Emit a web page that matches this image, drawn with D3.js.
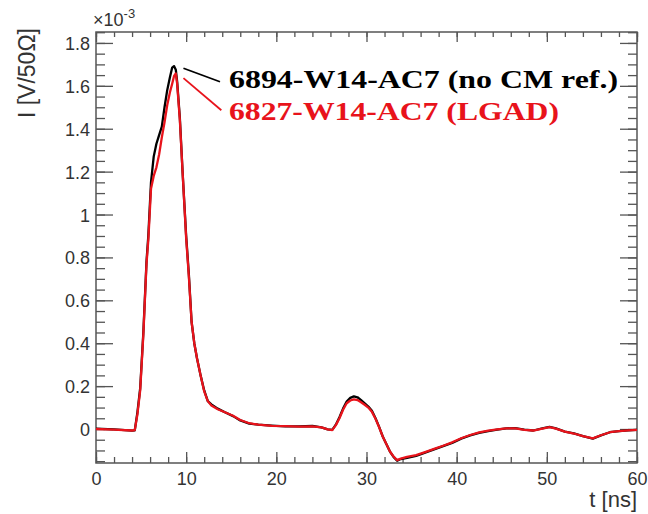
<html lang="en">
<head>
<meta charset="utf-8">
<title>Current pulse</title>
<script src="https://cdn.jsdelivr.net/npm/d3@7"></script>
<style>
  body { margin: 0; background: #fff; }
  .axis text { font-family: "Liberation Sans", Arial, sans-serif; font-size: 18px; fill: #333; }
  .axis path { display: none; }
  .axis line { stroke: #555; stroke-width: 1.3; }
</style>
</head>
<body>
<script>
// time in ns
var timeNs = [0, 2, 4, 4.3, 4.6, 4.9, 5.25, 5.6, 5.8, 6.1, 6.4, 6.7, 7.0, 7.3, 7.6, 7.9, 8.2, 8.45, 8.65, 8.85,
  9.0, 9.3, 9.6, 10.0, 10.3, 10.6, 10.9, 11.2, 11.6, 12.0, 12.4, 12.8, 13.5, 14.3, 15.2, 16.0, 17.0, 18.0, 19.5,
  21, 22.5, 24, 25, 25.7, 26.2, 26.6, 27.0, 27.4, 27.8, 28.2, 28.6, 29.0, 29.4, 29.8, 30.2, 30.6, 31.0, 31.4,
  31.8, 32.2, 32.6, 33.0, 33.4, 33.8, 34.5, 35.5, 36.5, 37.5, 38.5, 39.5, 40.5, 41.5, 42.5, 43.5, 44.5, 45.5,
  46.5, 47.5, 48.5, 49.5, 50.3, 51, 52, 53, 54, 55.1, 56, 57, 58, 59, 60];

// current in 1e-3 V/50Ohm
var blackI = [0.002, -0.002, -0.008, -0.006, 0.08, 0.19, 0.45, 0.78, 0.9, 1.15, 1.27, 1.33, 1.37, 1.41, 1.5, 1.58,
  1.64, 1.685, 1.692, 1.675, 1.62, 1.45, 1.2, 0.9, 0.72, 0.5, 0.4, 0.33, 0.25, 0.18, 0.13, 0.115, 0.095, 0.078,
  0.06, 0.04, 0.025, 0.02, 0.016, 0.012, 0.012, 0.014, 0.008, -0.002, -0.004, 0.02, 0.055, 0.095, 0.128, 0.145,
  0.152, 0.148, 0.135, 0.12, 0.105, 0.085, 0.05, 0.01, -0.035, -0.07, -0.105, -0.13, -0.148, -0.14, -0.135,
  -0.125, -0.11, -0.095, -0.08, -0.065, -0.045, -0.03, -0.018, -0.01, -0.003, 0.003, 0.004, -0.003, -0.007,
  0.003, 0.01, 0.003, -0.012, -0.02, -0.033, -0.045, -0.03, -0.015, -0.01, -0.006, -0.004];

var redI = [0.0, -0.003, -0.007, -0.005, 0.07, 0.18, 0.44, 0.77, 0.88, 1.12, 1.18, 1.22, 1.28, 1.36, 1.43, 1.51,
  1.57, 1.61, 1.645, 1.658, 1.61, 1.44, 1.2, 0.89, 0.71, 0.5, 0.4, 0.33, 0.25, 0.175, 0.13, 0.11, 0.092, 0.078,
  0.062, 0.042, 0.027, 0.02, 0.015, 0.013, 0.011, 0.012, 0.008, -0.002, -0.005, 0.018, 0.05, 0.09, 0.12, 0.133,
  0.138, 0.135, 0.125, 0.113, 0.1, 0.08, 0.048, 0.008, -0.035, -0.07, -0.105, -0.128, -0.145, -0.138, -0.13,
  -0.122, -0.108, -0.093, -0.078, -0.062, -0.043, -0.028, -0.016, -0.008, -0.002, 0.003, 0.003, -0.004, -0.007,
  0.002, 0.009, 0.002, -0.012, -0.021, -0.033, -0.044, -0.029, -0.015, -0.01, -0.006, -0.004];

var xTicks = [0, 10, 20, 30, 40, 50, 60];
var yTicks = [0, 0.2, 0.4, 0.6, 0.8, 1, 1.2, 1.4, 1.6, 1.8];
var legendLabels = ["6894-W14-AC7 (no CM ref.)", "6827-W14-AC7 (LGAD)"];
var colors = ["#000000", "#e8131b"];

var w = 648, h = 514;
var padL = 96, padR = 637, padT = 32, padB = 463;

var x = d3.scaleLinear().domain([0, 60]).range([padL, padR]);
var y = d3.scaleLinear().domain([-0.1585, 1.851]).range([padB, padT]);

var svg = d3.select("body").append("svg").attr("width", w).attr("height", h);

// minor ticks
var xMinor = d3.range(0, 60.01, 2);
var yMinor = d3.range(-0.15, 1.851, 0.05);

svg.append("g").attr("class", "axis").attr("transform", "translate(0," + padB + ")")
  .call(d3.axisBottom(x).tickValues(xMinor).tickSizeInner(-6).tickSizeOuter(0).tickFormat(""));
svg.append("g").attr("class", "axis").attr("transform", "translate(0," + padT + ")")
  .call(d3.axisTop(x).tickValues(xMinor).tickSizeInner(-5).tickSizeOuter(0).tickFormat(""));
svg.append("g").attr("class", "axis").attr("transform", "translate(" + padL + ",0)")
  .call(d3.axisLeft(y).tickValues(yMinor).tickSizeInner(-9).tickSizeOuter(0).tickFormat(""));
svg.append("g").attr("class", "axis").attr("transform", "translate(" + padR + ",0)")
  .call(d3.axisRight(y).tickValues(yMinor).tickSizeInner(-9).tickSizeOuter(0).tickFormat(""));

// major ticks with labels
svg.append("g").attr("class", "axis").attr("transform", "translate(0," + padB + ")")
  .call(d3.axisBottom(x).tickValues(xTicks).tickSizeInner(-11).tickSizeOuter(0).tickPadding(0))
  .selectAll("text").attr("y", 22).attr("dy", 0);
svg.append("g").attr("class", "axis").attr("transform", "translate(0," + padT + ")")
  .call(d3.axisTop(x).tickValues(xTicks).tickSizeInner(-10).tickSizeOuter(0).tickFormat(""));
svg.append("g").attr("class", "axis").attr("transform", "translate(" + padL + ",0)")
  .call(d3.axisLeft(y).tickValues(yTicks).tickSizeInner(-17).tickSizeOuter(0).tickPadding(0)
    .tickFormat(function(d) { return String(d); }))
  .selectAll("text").attr("x", -6).attr("dy", "0.36em");
svg.append("g").attr("class", "axis").attr("transform", "translate(" + padR + ",0)")
  .call(d3.axisRight(y).tickValues(yTicks).tickSizeInner(-17).tickSizeOuter(0).tickFormat(""));

// frame
svg.append("rect").attr("x", padL).attr("y", padT).attr("width", padR - padL).attr("height", padB - padT)
  .attr("fill", "none").attr("stroke", "#555").attr("stroke-width", 1.5);

// curves
var line = d3.line()
  .x(function(d) { return x(d[0]); })
  .y(function(d) { return y(d[1]); });

[blackI, redI].forEach(function(vals, k) {
  svg.append("path")
    .datum(timeNs.map(function(t, i) { return [t, vals[i]]; }))
    .attr("fill", "none")
    .attr("stroke", colors[k])
    .attr("stroke-width", 2.3)
    .attr("stroke-linejoin", "round")
    .attr("d", line);
});

// legend leader lines
var leaders = [[[9.7, 1.682], [13.75, 1.619]], [[9.7, 1.636], [13.9, 1.486]]];
leaders.forEach(function(seg, k) {
  svg.append("line")
    .attr("x1", x(seg[0][0])).attr("y1", y(seg[0][1]))
    .attr("x2", x(seg[1][0])).attr("y2", y(seg[1][1]))
    .attr("stroke", colors[k]).attr("stroke-width", 1.8);
});

var legendWidths = [389, 330];
legendLabels.forEach(function(txt, k) {
  svg.append("text")
    .attr("x", 229).attr("y", 88 + k * 32)
    .attr("font-family", "Liberation Serif, Times New Roman, serif")
    .attr("font-weight", "bold")
    .attr("font-size", "26px")
    .attr("textLength", legendWidths[k])
    .attr("lengthAdjust", "spacingAndGlyphs")
    .attr("fill", colors[k])
    .text(txt);
});

// axis titles
svg.append("text")
  .attr("transform", "translate(35,28) rotate(-90)")
  .attr("text-anchor", "end")
  .attr("font-family", "Liberation Sans, Arial, sans-serif")
  .attr("font-size", "23px")
  .attr("fill", "#333")
  .text("I [V/50Ω]");

svg.append("text")
  .attr("x", 637).attr("y", 507)
  .attr("text-anchor", "end")
  .attr("font-family", "Liberation Sans, Arial, sans-serif")
  .attr("font-size", "22px")
  .attr("fill", "#333")
  .text("t [ns]");

var mult = svg.append("text")
  .attr("x", 93).attr("y", 26)
  .attr("font-family", "Liberation Sans, Arial, sans-serif")
  .attr("font-size", "18px")
  .attr("fill", "#333");
mult.append("tspan").text("×10");
mult.append("tspan").attr("dy", -8).attr("font-size", "13px").text("-3");
</script>
</body>
</html>
